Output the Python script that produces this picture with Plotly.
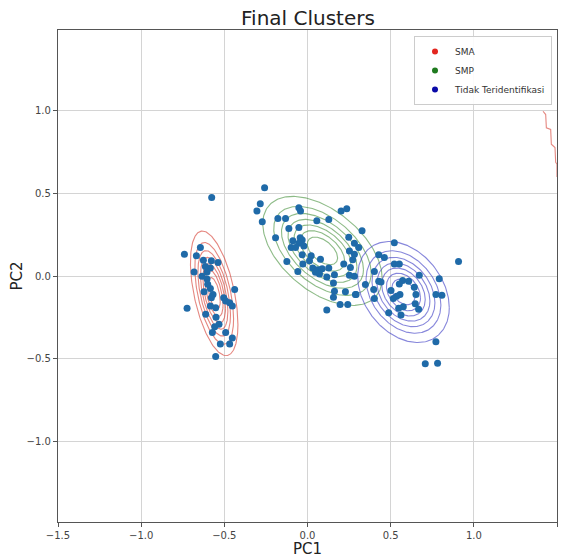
import numpy as np
import plotly.graph_objects as go

# ---------------- data ----------------
pc1 = [
    # SMA-like group (left)
    -0.576, -0.740, -0.644, -0.668, -0.626, -0.578, -0.538, -0.614, -0.584, -0.682,
    -0.604, -0.634, -0.604, -0.584, -0.438, -0.622, -0.568, -0.578, -0.504, -0.468,
    -0.452, -0.492, -0.584, -0.552, -0.724, -0.612, -0.532, -0.558, -0.572, -0.492,
    -0.452, -0.468, -0.524, -0.552, -0.550, -0.600,
    # SMP-like group (middle)
    -0.258, -0.284, -0.304, -0.272, -0.052, -0.042, 0.202, 0.236, -0.178, -0.132,
    0.056, 0.128, -0.112, -0.052, 0.328, -0.192, -0.088, -0.044, -0.032, -0.052,
    -0.022, 0.248, -0.098, -0.072, 0.282, 0.308, 0.252, -0.032, 0.022, 0.078,
    0.282, -0.124, -0.028, 0.012, 0.272, 0.218, 0.032, 0.062, 0.088, 0.128,
    0.258, -0.058, 0.072, 0.048, 0.162, 0.116, 0.252, 0.282, 0.156, 0.162,
    0.228, 0.292, 0.156, 0.196, 0.242, 0.116,
    # Tidak Teridentifikasi-like group (right)
    0.522, 0.428, 0.462, 0.522, 0.552, 0.908, 0.402, 0.672, 0.792, 0.428,
    0.442, 0.572, 0.552, 0.608, 0.642, 0.348, 0.502, 0.556, 0.536, 0.516,
    0.652, 0.772, 0.808, 0.398, 0.402, 0.288, 0.648, 0.668, 0.576, 0.548,
    0.488, 0.562, 0.772, 0.708, 0.782,
]
pc2 = [
    0.475, 0.132, 0.172, 0.122, 0.096, 0.092, 0.082, 0.058, 0.048, 0.024,
    0.024, -0.002, -0.018, -0.076, -0.082, -0.096, -0.112, -0.132, -0.132, -0.162,
    -0.182, -0.152, -0.182, -0.192, -0.196, -0.232, -0.292, -0.308, -0.342, -0.342,
    -0.376, -0.412, -0.412, -0.488, -0.250, -0.050,
    0.534, 0.438, 0.394, 0.328, 0.414, 0.394, 0.394, 0.408, 0.348, 0.348,
    0.334, 0.342, 0.288, 0.294, 0.274, 0.232, 0.214, 0.232, 0.218, 0.198,
    0.182, 0.234, 0.172, 0.172, 0.198, 0.172, 0.152, 0.128, 0.122, 0.102,
    0.132, 0.088, 0.072, 0.092, 0.098, 0.072, 0.048, 0.038, 0.044, 0.048,
    0.052, 0.028, 0.012, 0.022, 0.008, -0.006, 0.004, -0.002, -0.042, -0.092,
    -0.096, -0.112, -0.128, -0.172, -0.172, -0.206,
    0.202, 0.128, 0.112, 0.072, 0.072, 0.088, 0.028, 0.004, -0.016, -0.032,
    -0.036, -0.028, -0.048, -0.032, -0.068, -0.052, -0.088, -0.112, -0.122, -0.136,
    -0.112, -0.112, -0.116, -0.082, -0.136, -0.112, -0.168, -0.202, -0.186, -0.196,
    -0.222, -0.236, -0.398, -0.532, -0.528,
]

cluster_names = ["SMA", "SMP", "Tidak Teridentifikasi"]
legend_colors = ["#e3261f", "#1f7a1f", "#0a0aa8"]
contour_colors = ["rgba(215,70,60,0.65)", "rgba(80,150,70,0.65)", "rgba(70,70,200,0.65)"]

# Gaussian component parameters (mean, std devs, correlation)
mean_x = [-0.561, 0.090, 0.577]
mean_y = [-0.105, 0.152, -0.097]
std_x = [0.070, 0.176, 0.135]
std_y = [0.185, 0.162, 0.150]
corr = [-0.50, -0.50, -0.31]
level_fracs = [1/8, 2/8, 3/8, 4/8, 5/8, 6/8, 7/8]

# stray contour fragment at the right edge
frag_x = [1.416, 1.432, 1.436, 1.462, 1.466, 1.488, 1.492, 1.500, 1.500]
frag_y = [0.998, 0.978, 0.898, 0.888, 0.798, 0.778, 0.688, 0.678, 0.600]

# --------------- figure ---------------
fig = go.Figure()

t = np.linspace(0, 2 * np.pi, 241)
for i in range(3):
    cov = np.array([[std_x[i] ** 2, corr[i] * std_x[i] * std_y[i]],
                    [corr[i] * std_x[i] * std_y[i], std_y[i] ** 2]])
    L = np.linalg.cholesky(cov)
    xs, ys = [], []
    for f in level_fracs:
        r = np.sqrt(-2 * np.log(f))
        pts = r * (L @ np.vstack([np.cos(t), np.sin(t)]))
        xs += list(pts[0] + mean_x[i]) + [None]
        ys += list(pts[1] + mean_y[i]) + [None]
    fig.add_trace(go.Scatter(x=xs, y=ys, mode="lines",
                             line=dict(color=contour_colors[i], width=1.1),
                             showlegend=False, hoverinfo="skip"))

fig.add_trace(go.Scatter(x=frag_x, y=frag_y, mode="lines",
                         line=dict(color=contour_colors[0], width=1.1),
                         showlegend=False, hoverinfo="skip"))

fig.add_trace(go.Scatter(x=pc1, y=pc2, mode="markers",
                         marker=dict(size=7, color="#1f6aa8"),
                         showlegend=False))

for name, col in zip(cluster_names, legend_colors):
    fig.add_trace(go.Scatter(x=[None], y=[None], mode="markers", name=name,
                             marker=dict(size=6, color=col)))

axis_common = dict(
    showgrid=True, gridcolor="#d4d4d4", gridwidth=1,
    zeroline=False, showline=True, linecolor="#555555", linewidth=1.2,
    mirror=True, ticks="outside", ticklen=4, tickcolor="#555555",
    tickfont=dict(family="DejaVu Sans", size=10, color="#444444"),
    tickformat=".1f",
)

fig.update_layout(
    width=562, height=558,
    margin=dict(l=58, r=4, t=30, b=31),
    paper_bgcolor="white", plot_bgcolor="white",
    title=dict(text="Final Clusters", x=0.548, xanchor="center", y=0.968, yanchor="middle",
               font=dict(family="DejaVu Sans", size=20, color="#222222")),
    xaxis=dict(range=[-1.5, 1.5], tickvals=[-1.5, -1.0, -0.5, 0.0, 0.5, 1.0, 1.5],
               title=dict(text="PC1", font=dict(family="DejaVu Sans", size=15, color="#222222"),
                          standoff=2),
               **axis_common),
    yaxis=dict(range=[-1.49, 1.49], tickvals=[-1.0, -0.5, 0.0, 0.5, 1.0],
               title=dict(text="PC2", font=dict(family="DejaVu Sans", size=15, color="#222222"),
                          standoff=0),
               **axis_common),
    legend=dict(x=0.99, xanchor="right", y=0.988, yanchor="top",
                bgcolor="rgba(255,255,255,0.9)", bordercolor="#cccccc", borderwidth=1,
                font=dict(family="DejaVu Sans", size=9, color="#333333"),
                tracegroupgap=0, itemwidth=30),
    showlegend=True,
)

fig.write_html("out.html")
